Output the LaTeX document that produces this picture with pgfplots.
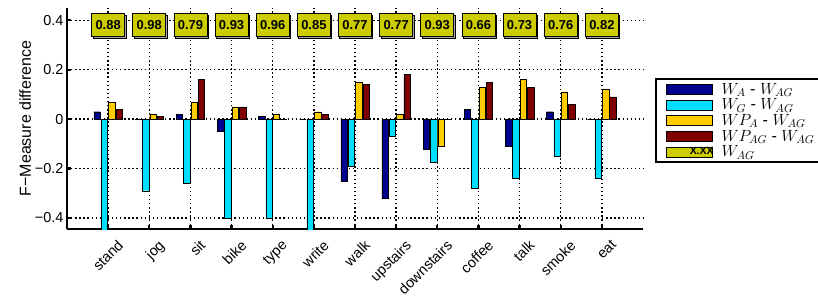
\documentclass[border=0pt]{standalone}
\usepackage{fix-cm}
\usepackage{fontspec}
\setmainfont{Liberation Sans}
\usepackage{pgfplots}
\usepackage{pgfplotstable}
\pgfplotsset{compat=1.18}
\usetikzlibrary{shadows}
\definecolor{cA}{RGB}{0,0,143}
\definecolor{cG}{RGB}{0,221,255}
\definecolor{cPA}{RGB}{255,204,0}
\definecolor{cPAG}{RGB}{128,0,0}
\definecolor{cW}{RGB}{204,204,0}
\pgfplotstableread{
x A G PA PAG
1 0.03 -0.48 0.07 0.04
2 0.00 -0.29 0.02 0.01
3 0.02 -0.26 0.07 0.16
4 -0.05 -0.40 0.05 0.05
5 0.01 -0.40 0.02 0.00
6 0.00 -0.48 0.03 0.02
7 -0.25 -0.19 0.15 0.14
8 -0.32 -0.07 0.02 0.18
9 -0.12 -0.175 -0.11 0.00
10 0.04 -0.28 0.13 0.15
11 -0.11 -0.24 0.16 0.13
12 0.03 -0.15 0.11 0.06
13 0.00 -0.24 0.12 0.09
}\diffdata
\pgfplotstableread{
x y label
1 0.38 0.88
2 0.38 0.98
3 0.38 0.79
4 0.38 0.93
5 0.38 0.96
6 0.38 0.85
7 0.38 0.77
8 0.38 0.77
9 0.38 0.93
10 0.38 0.66
11 0.38 0.73
12 0.38 0.76
13 0.38 0.82
}\wagdata
\begin{document}
\begin{tikzpicture}
\begin{axis}[
  name=ax,
  scale only axis,
  width=576bp, height=221bp,
  xmin=0, xmax=14,
  ymin=-0.445, ymax=0.45,
  xtick={1,...,13},
  xticklabels={stand,jog,sit,bike,type,write,walk,upstairs,downstairs,coffee,talk,smoke,eat},
  ytick={-0.4,-0.2,0,0.2,0.4},
  yticklabels={−0.4,−0.2,0,0.2,0.4},
  axis x line*=bottom, axis y line*=left,
  axis line style={line width=3pt, -},
  major tick length=4bp,
  tick style={line width=2.2pt, black},
  tick align=inside,
  grid=major,
  major grid style={black, line width=1.4pt, dash pattern=on 1.4pt off 2.7pt},
  tick label style={font=\fontsize{14.5}{16}\selectfont},
  xticklabel style={rotate=45, anchor=north east, inner sep=1pt, yshift=-12bp},
  ylabel={F−Measure difference},
  ylabel style={font=\fontsize{16}{18}\selectfont, yshift=-3bp},
  legend image code/.code={\draw[#1, draw=black, line width=0.5pt] (0bp,-5bp) rectangle (46bp,5bp);},
  legend style={at={(1.0226,0.679)}, anchor=north west, draw=black, line width=2.2pt,
    fill=white,
    font=\fontsize{16.3}{16.3}\selectfont,
    cells={anchor=west, line width=0.5pt, fill=none, inner xsep=0bp, inner ysep=0bp},
    /tikz/every odd column/.append style={column sep=6bp},
    row sep=-1bp, inner xsep=10bp, inner ysep=2bp},
]
\addplot[ybar, bar width=6.5bp, bar shift=-11bp, fill=cA, draw=black, line width=0.4pt] table[x=x, y=A] {\diffdata};
\addlegendentry{$W_A$ - $W_{AG}$}
\addplot[ybar, bar width=6.5bp, bar shift=-3.7bp, fill=cG, draw=black, line width=0.4pt] table[x=x, y=G] {\diffdata};
\addlegendentry{$W_G$ - $W_{AG}$}
\addplot[ybar, bar width=6.5bp, bar shift=3.7bp, fill=cPA, draw=black, line width=0.4pt] table[x=x, y=PA] {\diffdata};
\addlegendentry{$W P_A$ - $W_{AG}$}
\addplot[ybar, bar width=6.5bp, bar shift=11bp, fill=cPAG, draw=black, line width=0.4pt] table[x=x, y=PAG] {\diffdata};
\addlegendentry{$W P_{AG}$ - $W_{AG}$}
\addlegendimage{legend image code/.code={\draw[fill=cW, draw=black, line width=0.5pt] (0bp,-5bp) rectangle (46bp,5bp); \node[font=\bfseries\fontsize{10.5}{10.5}\selectfont, inner sep=0pt] at (23bp,0bp) {X.XX};}}
\addlegendentry{$W_{AG}$}
\addplot[only marks, mark=none, forget plot, point meta=explicit symbolic,
  nodes near coords,
  nodes near coords style={anchor=center, fill=cW, draw=black, line width=0.6pt,
    drop shadow={shadow xshift=1.2bp, shadow yshift=-1.2bp, fill=gray!70, opacity=1},
    font=\bfseries\fontsize{13}{13}\selectfont, minimum width=33bp, minimum height=23bp, inner sep=1bp}]
  table[x=x, y=y, meta=label] {\wagdata};
\end{axis}
\pgfresetboundingbox
\path[use as bounding box] ([xshift=-67bp, yshift=-67bp]ax.south west) rectangle ++(818bp,296bp);
\end{tikzpicture}
\end{document}
